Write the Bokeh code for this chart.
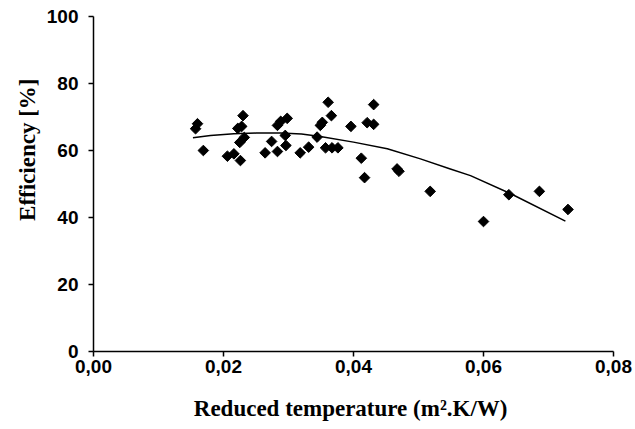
import math
from bokeh.plotting import figure
from bokeh.models import Range1d, FixedTicker, Title
from bokeh.embed import file_html
from bokeh.resources import INLINE

# Measured data (reduced temperature, efficiency %)
reduced_temp = [0.0160, 0.0157, 0.0169, 0.0206, 0.0216, 0.0226, 0.0230, 0.0222,
                0.0228, 0.0232, 0.0225, 0.0264, 0.0274, 0.0283, 0.0283, 0.0288,
                0.0298, 0.0295, 0.0296, 0.0318, 0.0331, 0.0344, 0.0349, 0.0352,
                0.0361, 0.0366, 0.0357, 0.0367, 0.0376, 0.0396, 0.0421, 0.0431,
                0.0431, 0.0412, 0.0417, 0.0467, 0.0470, 0.0518, 0.0600, 0.0639,
                0.0686, 0.0730]
efficiency = [68.0, 66.5, 60.0, 58.3, 59.0, 57.0, 70.4, 66.6,
              67.2, 63.9, 62.4, 59.3, 62.7, 59.7, 67.5, 68.7,
              69.6, 64.5, 61.5, 59.3, 61.0, 64.0, 67.5, 68.4,
              74.4, 70.4, 60.8, 60.8, 60.8, 67.2, 68.3, 67.8,
              73.7, 57.7, 51.9, 54.5, 53.8, 47.8, 38.8, 46.8,
              47.8, 42.4]

# Trend line
trend_x = [0.0153, 0.0180, 0.0216, 0.0250, 0.0288, 0.0320, 0.0349, 0.0400,
           0.0452, 0.0503, 0.0549, 0.0580, 0.0642, 0.0726]
trend_y = [63.8, 64.5, 65.0, 65.2, 65.2, 64.9, 64.2, 62.5,
           60.5, 57.5, 54.5, 52.5, 47.1, 38.9]

x_ticks = [0.0, 0.02, 0.04, 0.06, 0.08]
x_tick_labels = ["0,00", "0,02", "0,04", "0,06", "0,08"]
y_ticks = [0, 20, 40, 60, 80, 100]

x_title = "Reduced temperature  (m\u00b2.K/W)"
y_title = "Efficiency [%]"

p = figure(width=635, height=429, output_backend="svg", toolbar_location=None,
           x_range=Range1d(0, 0.08), y_range=Range1d(0, 100),
           min_border_left=93, min_border_right=22, min_border_top=16,
           min_border_bottom=78)
p.outline_line_color = None
p.grid.visible = False
p.background_fill_color = "white"
p.border_fill_color = "white"

for ax in (p.xaxis, p.yaxis):
    ax.axis_line_color = "black"
    ax.axis_line_width = 1.5
    ax.major_tick_line_color = "black"
    ax.major_tick_line_width = 1.5
    ax.major_tick_out = 5
    ax.major_tick_in = 0
    ax.minor_tick_line_color = None
    ax.major_label_text_font = "Liberation Sans"
    ax.major_label_text_font_style = "bold"
    ax.major_label_text_font_size = "19px"
    ax.major_label_text_color = "black"

p.xaxis.ticker = FixedTicker(ticks=x_ticks)
p.xaxis.major_label_overrides = dict(zip(x_ticks, x_tick_labels))
p.xaxis.major_label_standoff = 3
p.xaxis.axis_label = x_title
p.xaxis.axis_label_text_font = "Liberation Serif"
p.xaxis.axis_label_text_font_style = "bold"
p.xaxis.axis_label_text_font_size = "23px"
p.xaxis.axis_label_text_color = "black"
p.xaxis.axis_label_standoff = 20

p.yaxis.ticker = FixedTicker(ticks=y_ticks)
p.yaxis.major_label_standoff = 10

ytitle = Title(text=y_title, align="right", offset=62, standoff=7,
               text_font="Liberation Serif", text_font_style="bold",
               text_font_size="23px", text_color="black")
p.add_layout(ytitle, "left")

p.line(trend_x, trend_y, line_color="black", line_width=1.5)
p.scatter(reduced_temp, efficiency, marker="square", angle=math.pi / 4,
          size=7.5, color="black")

open("out.html", "w").write(file_html(p, INLINE))
